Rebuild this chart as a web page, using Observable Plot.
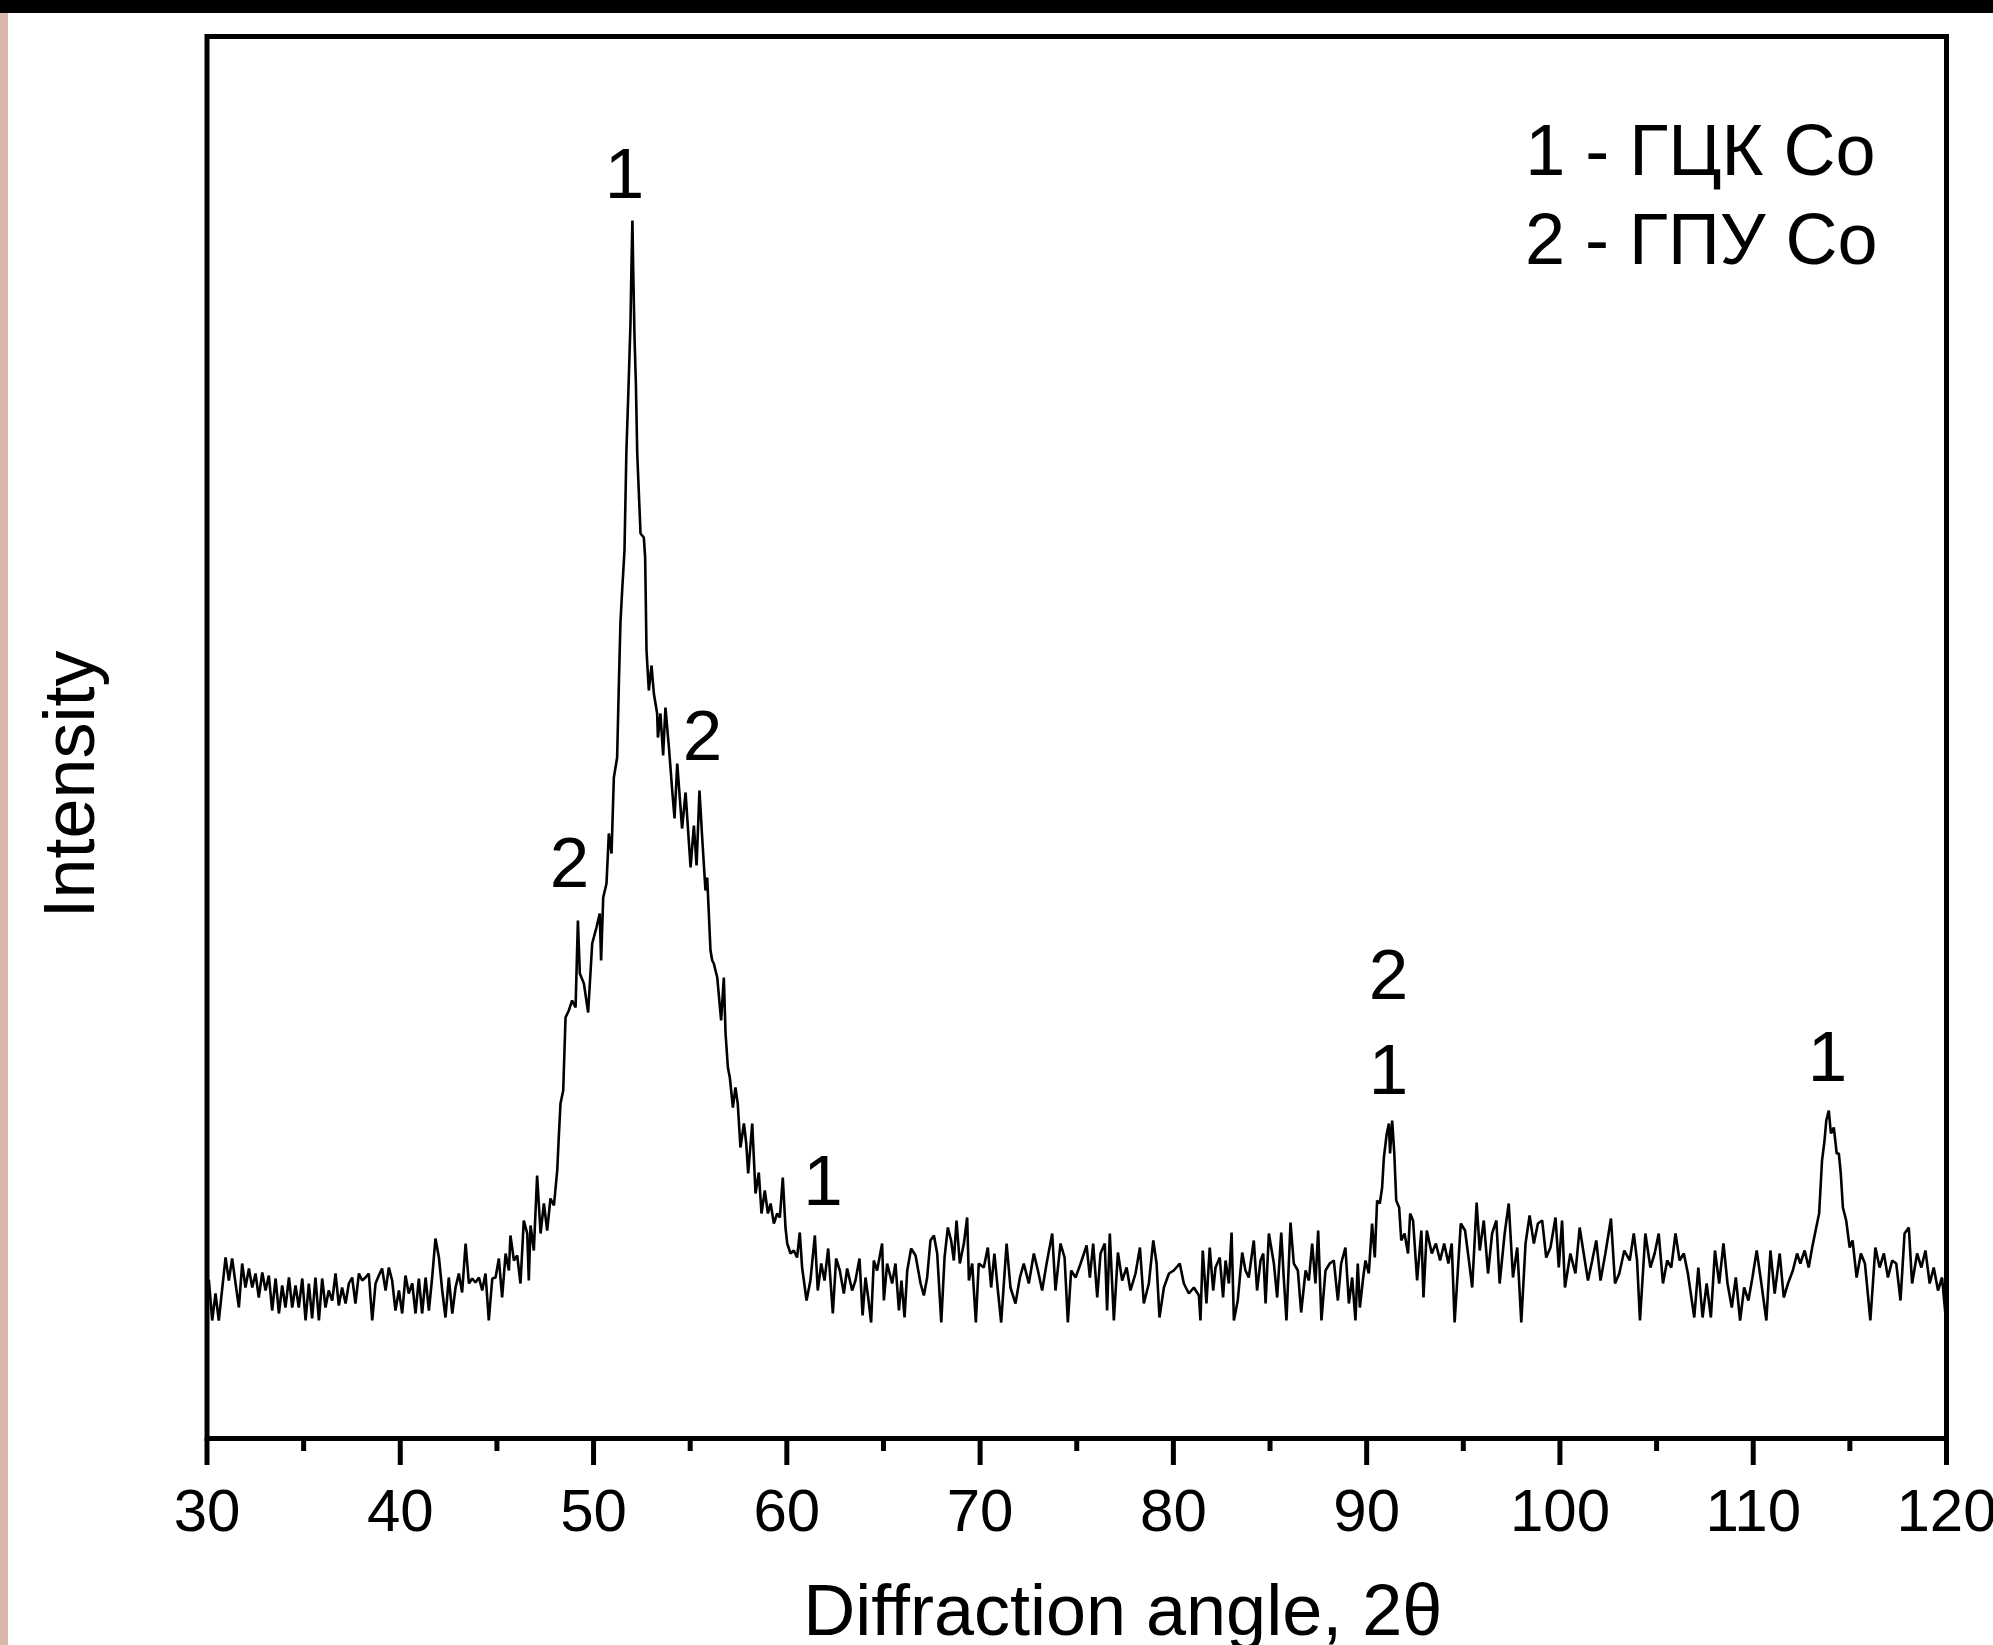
<!DOCTYPE html>
<html><head><meta charset="utf-8">
<script src="https://cdn.jsdelivr.net/npm/d3@7"></script>
<script src="https://cdn.jsdelivr.net/npm/@observablehq/plot@0.6"></script>
<style>
html,body{margin:0;padding:0;background:#fff;}
#wrap{position:relative;width:1993px;height:1645px;overflow:hidden;background:#fff;}
#topbar{position:absolute;left:0;top:0;width:1993px;height:13px;background:#000;}
#leftstrip{position:absolute;left:0;top:13px;width:8px;height:1632px;background:#d9b8ab;}
#chart svg{display:block;}
</style></head><body>
<div id="wrap"><div id="chart"></div><div id="topbar"></div><div id="leftstrip"></div></div>
<script>
// [2θ angle, intensity]
const baselineLow = [[30.10,158],[30.27,118],[30.44,145],[30.61,118],[30.96,181],[31.13,158],[31.30,180],[31.65,131],[31.82,175],[31.99,151],[32.17,170],[32.34,151],[32.51,165],[32.68,141],[32.86,166],[33.03,148],[33.20,163],[33.37,128],[33.55,160],[33.72,125],[33.89,153],[34.06,131],[34.24,161],[34.41,131],[34.58,153],[34.75,131],[34.93,160],[35.10,118],[35.27,155],[35.44,120],[35.61,161],[35.79,118],[35.96,160],[36.13,131],[36.30,148],[36.48,138],[36.65,165],[36.82,133],[36.99,151],[37.17,135],[37.34,155],[37.51,161],[37.68,135],[37.86,165],[38.03,158],[38.20,161],[38.37,165],[38.55,118],[38.72,155],[38.89,163],[39.06,170],[39.24,148],[39.41,171],[39.58,158],[39.75,128],[39.93,148],[40.10,125],[40.27,163],[40.44,145],[40.62,155],[40.79,125],[40.96,160],[41.13,125],[41.31,161],[41.48,128],[41.65,161],[41.82,200],[42.00,181],[42.17,148],[42.34,121],[42.51,161],[42.69,125],[42.86,151],[43.03,165],[43.20,146],[43.38,195],[43.55,155],[43.72,160],[43.89,156],[44.07,161],[44.24,148],[44.41,165],[44.58,118],[44.76,160],[44.93,161],[45.10,180],[45.27,141],[45.45,185],[45.62,168],[45.70,203],[45.88,178],[46.05,183],[46.22,155],[46.39,218],[46.57,205],[46.65,158],[46.74,213],[46.91,188],[47.08,263],[47.26,205],[47.43,235],[47.60,208],[47.77,240],[47.95,233],[48.12,268]];
const mainPeak = [[48.20,301],[48.29,335],[48.43,348],[48.55,421],[48.72,428],[48.89,438],[49.07,431],[49.19,518],[49.29,465],[49.50,455],[49.72,426],[49.93,495],[50.15,511],[50.32,525],[50.39,478],[50.50,541],[50.67,555],[50.79,605],[50.93,585],[51.05,661],[51.22,681],[51.31,755],[51.39,815],[51.48,848],[51.60,888],[51.70,988],[51.77,1028],[51.84,1071],[51.91,1115],[51.96,1171],[52.01,1218],[52.05,1171],[52.12,1101],[52.19,1055],[52.26,985],[52.43,905],[52.60,901],[52.67,881],[52.74,788],[52.86,748],[53.00,773],[53.12,745],[53.29,725],[53.33,701],[53.46,725],[53.60,683],[53.72,731],[53.90,691],[54.07,648],[54.19,620],[54.33,675],[54.58,610],[54.76,646],[55.02,571],[55.19,613],[55.33,573],[55.48,648],[55.62,601],[55.79,548],[55.88,561],[56.05,488],[56.14,478],[56.22,475],[56.40,461],[56.60,418],[56.74,461],[56.83,405],[56.95,371],[57.05,361],[57.21,331],[57.34,351],[57.46,335],[57.60,291],[57.78,315],[57.90,295],[58.00,265],[58.21,315],[58.38,245],[58.55,266],[58.69,225],[58.86,248],[59.02,225],[59.16,235],[59.33,215],[59.50,225],[59.64,221],[59.79,261],[59.93,211]];
const midRange = [[60.02,195],[60.19,185],[60.36,188],[60.53,181],[60.67,206],[60.79,171],[61.02,138],[61.22,158],[61.45,203],[61.60,148],[61.78,175],[61.95,158],[62.14,190],[62.38,125],[62.55,180],[62.74,168],[62.95,145],[63.12,170],[63.38,148],[63.55,158],[63.76,180],[63.92,123],[64.07,161],[64.21,141],[64.36,116],[64.50,178],[64.67,168],[64.93,195],[65.02,138],[65.19,175],[65.45,155],[65.62,175],[65.80,128],[65.93,158],[66.09,121],[66.23,168],[66.43,190],[66.66,183],[66.92,155],[67.09,143],[67.26,161],[67.43,198],[67.61,203],[67.78,185],[67.99,116],[68.16,181],[68.33,211],[68.50,198],[68.64,178],[68.78,218],[68.95,175],[69.16,195],[69.33,221],[69.42,158],[69.59,175],[69.78,116],[69.93,175],[70.19,171],[70.40,191],[70.57,151],[70.74,185],[70.92,148],[71.09,116],[71.37,195],[71.57,151],[71.83,135],[72.06,161],[72.26,175],[72.52,155],[72.78,185],[72.99,168],[73.21,148],[73.44,175],[73.73,205],[73.90,148],[74.16,195],[74.37,181],[74.54,116],[74.71,168],[74.94,161],[75.20,175],[75.51,193],[75.68,161],[75.85,195],[76.06,141],[76.23,185],[76.45,195],[76.57,128],[76.71,205],[76.92,118],[77.13,186],[77.35,158],[77.58,171],[77.78,148],[78.04,165],[78.27,191],[78.47,135],[78.73,155],[78.96,198],[79.13,175],[79.28,121],[79.51,151],[79.77,165],[80.02,168],[80.33,175],[80.54,155],[80.80,145],[81.06,151],[81.32,143]];
const peak91Region = [[81.40,118],[81.52,188],[81.71,135],[81.88,191],[82.06,148],[82.18,171],[82.40,181],[82.57,141],[82.70,178],[82.87,155],[83.01,206],[83.13,118],[83.33,138],[83.56,186],[83.73,168],[83.90,161],[84.16,198],[84.33,148],[84.51,178],[84.65,185],[84.77,135],[84.94,205],[85.20,175],[85.37,141],[85.58,206],[85.71,161],[85.85,118],[86.06,216],[86.23,175],[86.44,168],[86.61,126],[86.84,168],[87.01,158],[87.18,195],[87.35,155],[87.49,208],[87.66,118],[87.87,168],[88.09,175],[88.30,178],[88.51,138],[88.68,175],[88.90,191],[89.08,135],[89.25,161],[89.42,118],[89.54,175],[89.65,131],[89.82,161],[89.94,178],[90.11,165],[90.28,215],[90.42,181],[90.54,238],[90.68,235],[90.80,251],[90.89,281],[91.04,305],[91.15,315],[91.21,285],[91.32,318],[91.43,285],[91.53,238],[91.68,231],[91.79,198],[91.96,205],[92.14,185],[92.25,225],[92.40,218],[92.61,158],[92.83,208],[92.94,141],[93.11,208],[93.37,185],[93.58,195],[93.80,178],[94.01,195],[94.23,175],[94.40,195],[94.55,116],[94.87,215],[95.09,208],[95.31,175],[95.46,151],[95.69,236],[95.85,188],[96.06,218],[96.28,165],[96.49,205],[96.71,218],[96.88,155],[97.14,205],[97.35,235],[97.57,161],[97.79,191],[98.00,116],[98.22,195],[98.43,223],[98.65,195],[98.86,215],[99.08,218],[99.29,181],[99.51,191],[99.77,221],[99.94,171]];
const highAngle = [[100.11,218],[100.26,151],[100.54,185],[100.80,165],[101.02,211],[101.23,185],[101.45,158],[101.67,178],[101.88,198],[102.10,158],[102.35,185],[102.64,220],[102.85,155],[103.07,165],[103.33,188],[103.61,178],[103.82,205],[103.99,178],[104.14,118],[104.42,205],[104.68,171],[104.90,185],[105.11,205],[105.33,155],[105.55,178],[105.76,171],[105.98,205],[106.19,178],[106.41,185],[106.62,165],[106.95,121],[107.16,171],[107.38,121],[107.59,155],[107.81,121],[108.02,188],[108.24,155],[108.46,195],[108.67,155],[108.89,131],[109.10,161],[109.32,118],[109.53,151],[109.75,138],[109.96,161],[110.18,188],[110.40,158],[110.68,118],[110.89,188],[111.11,145],[111.37,185],[111.58,141],[111.80,155],[112.05,168],[112.27,185],[112.44,175],[112.66,188],[112.87,171],[113.05,191],[113.26,211],[113.41,225],[113.56,278],[113.69,298],[113.78,318],[113.91,328],[114.02,305],[114.17,311],[114.32,285],[114.43,285],[114.53,265],[114.64,231],[114.81,218],[114.99,191],[115.14,198],[115.35,161],[115.57,185],[115.78,175],[116.06,118],[116.32,191],[116.54,171],[116.76,185],[116.97,161],[117.19,178],[117.40,175],[117.62,138],[117.83,205],[118.05,211],[118.22,155],[118.48,185],[118.70,171],[118.91,188],[119.13,155],[119.34,171],[119.56,148],[119.77,161],[119.94,125]];

const peakLabelText = ["1", "2", "2", "1", "2", "1", "1"];
const peakLabelAngle = [51.6, 48.76, 55.64, 61.87, 91.13, 91.13, 113.84];
const peakLabelIntensity = [1241, 552, 679, 234, 440, 345, 358];

const legendLines = ["1 - ГЦК Co", "2 - ГПУ Co"];
const xTicksMajor = [30, 40, 50, 60, 70, 80, 90, 100, 110, 120];
const xTicksMinor = [35, 45, 55, 65, 75, 85, 95, 105, 115];
const xLabel = "Diffraction angle, 2θ";
const yLabel = "Intensity";

const pattern = [...baselineLow, ...mainPeak, ...midRange, ...peak91Region, ...highAngle]
  .map(([angle, intensity]) => ({angle, intensity}));
const peakLabels = peakLabelText.map((label, i) => ({label, angle: peakLabelAngle[i], intensity: peakLabelIntensity[i]}));

const FONT = "'Liberation Sans', Arial, Helvetica, sans-serif";
const chart = Plot.plot({
  width: 1993, height: 1645,
  marginLeft: 206.5, marginRight: 47, marginTop: 36, marginBottom: 207,
  style: {fontFamily: FONT, fontSize: "60px", background: "transparent", color: "#000", overflow: "visible"},
  x: {domain: [30, 120]},
  y: {domain: [0, 1402], axis: null},
  marks: [
    Plot.line(pattern, {x: "angle", y: "intensity", stroke: "#000", strokeWidth: 2.6, strokeLinejoin: "miter"}),
    Plot.axisX({ticks: xTicksMinor, tickSize: 13, stroke: "#000", strokeWidth: 5, tickFormat: () => "", label: null}),
    Plot.axisX({ticks: xTicksMajor, tickSize: 27, tickPadding: 23, stroke: "#000", strokeWidth: 5, fontSize: 60, fill: "#000", label: null, tickFormat: d => String(d)}),
    Plot.frame({stroke: "#000", strokeWidth: 5}),
    Plot.text(peakLabels, {x: "angle", y: "intensity", text: "label", fontSize: 71, fill: "#000", lineAnchor: "bottom", textAnchor: "middle"}),
    Plot.text([legendLines[0]], {text: d => d, frameAnchor: "top-right", dx: -71, dy: 138, lineAnchor: "bottom", textAnchor: "end", fontSize: 72, fill: "#000"}),
    Plot.text([legendLines[1]], {text: d => d, frameAnchor: "top-right", dx: -69, dy: 227, lineAnchor: "bottom", textAnchor: "end", fontSize: 72, fill: "#000"}),
    Plot.text([xLabel], {text: d => d, frameAnchor: "bottom", dx: 46, dy: 196, lineAnchor: "bottom", textAnchor: "middle", fontSize: 72, fill: "#000"}),
    Plot.text([yLabel], {text: d => d, frameAnchor: "left", dx: -113.5, dy: 47, rotate: -90, lineAnchor: "bottom", textAnchor: "middle", fontSize: 72, fill: "#000"})
  ]
});
document.getElementById("chart").appendChild(chart);
</script></body></html>
